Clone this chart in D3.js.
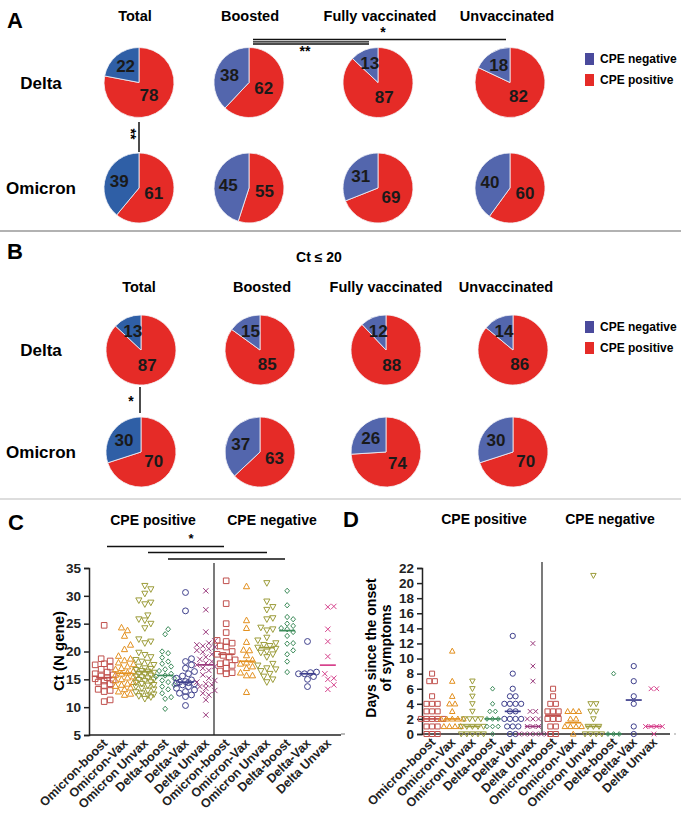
<!DOCTYPE html>
<html>
<head>
<meta charset="utf-8">
<script src="https://cdn.jsdelivr.net/npm/d3@7"></script>
<style>
  body { margin: 0; background: #fff; }
  text { font-family: 'Liberation Sans', Arial, Helvetica, sans-serif; font-weight: bold; }
</style>
</head>
<body>
<script>
// ---- data ----
var pieCols = ["Total", "Boosted", "Fully vaccinated", "Unvaccinated"];
var pieRows = ["Delta", "Omicron"];
var legendKeys = ["CPE negative", "CPE positive"];

// panel A, percentages
var negA_delta = [22, 38, 13, 18];
var posA_delta = [78, 62, 87, 82];
var negA_omicron = [39, 45, 31, 40];
var posA_omicron = [61, 55, 69, 60];
// panel B (Ct <= 20)
var negB_delta = [13, 15, 12, 14];
var posB_delta = [87, 85, 88, 86];
var negB_omicron = [30, 37, 26, 30];
var posB_omicron = [70, 63, 74, 70];

var groups = ["Omicron-boost", "Omicron-Vax", "Omicron Unvax", "Delta-boost", "Delta-Vax", "Delta Unvax"];

// panel C, Ct (N gene)
var ctPositive = [
  [24.7, 18.7, 18.3, 17.8, 17.6, 17.2, 16.8, 16.3, 16.0, 15.8, 15.6, 15.3, 15.1, 14.9, 14.7, 14.5, 14.2, 13.9, 13.2, 13.0, 12.8, 11.3, 11.0],
  [24.3, 23.8, 22.8, 21.2, 20.4, 19.2, 18.7, 18.4, 18.0, 17.7, 17.3, 17.0, 16.8, 16.5, 16.2, 16.0, 15.8, 15.5, 15.3, 15.0, 14.8, 14.5, 14.2, 14.0, 13.8, 13.5, 13.2, 12.8, 12.4, 12.2],
  [31.8, 31.2, 30.4, 29.2, 28.8, 28.5, 26.5, 25.8, 25.6, 25.0, 24.2, 22.2, 21.8, 21.5, 19.8, 19.4, 19.0, 18.5, 18.2, 18.0, 17.6, 17.3, 17.0, 16.9, 16.7, 16.5, 16.4, 16.2, 16.0, 15.9, 15.7, 15.5, 15.4, 15.2, 15.0, 14.9, 14.7, 14.5, 14.4, 14.2, 14.0, 13.9, 13.7, 13.4, 13.2, 13.0, 12.7, 12.5, 12.3, 12.1, 12.0, 11.8, 11.5],
  [24.0, 23.1, 20.0, 19.7, 18.9, 18.2, 17.8, 17.3, 16.8, 16.5, 16.0, 15.7, 15.5, 15.2, 14.8, 14.5, 14.0, 13.7, 13.2, 12.5, 11.8, 11.5, 9.7],
  [30.6, 27.3, 18.7, 18.2, 17.6, 17.0, 16.4, 16.0, 15.6, 15.2, 14.9, 14.6, 14.5, 14.3, 14.2, 14.0, 13.7, 13.4, 13.1, 12.8, 12.5, 12.2, 11.9, 10.3, 14.4],
  [30.9, 27.5, 23.5, 21.9, 21.5, 21.2, 21.0, 20.8, 20.5, 20.2, 19.9, 19.5, 19.0, 18.6, 18.2, 17.9, 17.6, 17.3, 17.0, 16.6, 15.8, 15.2, 14.8, 14.5, 14.2, 14.0, 13.7, 13.4, 13.0, 12.5, 12.2, 11.3, 8.6]
];
var ctNegative = [
  [32.7, 28.6, 25.0, 23.4, 22.0, 21.8, 21.5, 21.0, 20.8, 20.0, 19.5, 19.3, 19.0, 18.5, 18.0, 17.8, 17.5, 17.0, 16.5, 16.2, 16.0],
  [31.7, 25.6, 24.2, 21.7, 20.3, 20.2, 19.3, 18.5, 18.0, 17.8, 17.3, 17.0, 16.2, 15.7, 15.7, 12.7],
  [32.3, 29.0, 28.0, 27.5, 26.0, 25.8, 24.3, 24.0, 23.8, 22.5, 22.0, 21.5, 21.2, 21.0, 20.7, 20.5, 20.0, 19.8, 19.5, 19.0, 17.8, 17.5, 17.0, 16.8, 16.5, 16.0, 15.5, 15.0, 14.5],
  [30.9, 28.3, 26.2, 25.8, 25.0, 24.6, 24.2, 24.0, 23.5, 22.8, 21.5, 21.4, 20.2, 19.5, 18.2, 16.3],
  [21.8, 16.3, 16.2, 16.0, 16.0, 15.5, 15.0, 13.7],
  [28.1, 28.0, 24.0, 21.8, 19.1, 16.0, 15.2, 15.0, 14.0, 13.2]
];

// panel D, days since onset of symptoms
var daysPositive = [
  [8, 7, 7, 5, 4, 4, 4, 3, 3, 3, 2, 2, 2, 2, 2, 1, 1, 1, 0, 0, 0],
  [11, 7, 5, 4, 4, 3, 2, 2, 2, 2, 2, 1, 1, 1, 1],
  [7, 6, 5, 4, 3, 2, 2, 2, 2, 1, 1, 1, 1, 1, 0, 0, 0, 0, 0],
  [6, 4, 3, 3, 2, 2, 2, 1, 1, 1, 0],
  [13, 8, 6, 5, 5, 4, 4, 4, 4, 3, 3, 2, 2, 2, 2, 1, 1, 1, 0, 0],
  [12, 9, 7, 3, 3, 2, 2, 2, 1, 1, 1, 0, 0, 0, 0, 0, 0]
];
var daysNegative = [
  [6, 5, 4, 4, 3, 3, 3, 2, 2, 2, 1, 1, 0, 0],
  [3, 3, 3, 2, 2, 1, 1, 1, 1, 0],
  [21, 4, 4, 3, 3, 2, 1, 1, 1, 0, 0, 0, 0],
  [8, 0, 0, 0],
  [9, 7, 5, 4, 1, 0],
  [6, 6, 1, 1, 1, 1, 0]
];

var ctTicks = [5, 10, 15, 20, 25, 30, 35];
var dayTicks = [0, 2, 4, 6, 8, 10, 12, 14, 16, 18, 20, 22];

// ---- styles ----
var RED = "#e52b27";
var BLUE_TOTAL = "#2f5fa6";
var BLUE = "#5366ad";
var BLUE_LEGEND = "#4a4a9c";
var colColors = ["#c0504d", "#e3901f", "#9c9c3a", "#3d8b5a", "#3e3f8c", "#9a3b7d",
                 "#c0504d", "#e3901f", "#9c9c3a", "#3d8b5a", "#3e3f8c", "#d6428c"];
var colShapes = ["square", "triangle", "triangleDown", "diamond", "circle", "times"];

var svg = d3.select("body").append("svg")
    .attr("width", 681).attr("height", 816);

svg.append("rect").attr("width", 681).attr("height", 816).attr("fill", "#fff");

// separators
svg.append("line").attr("x1", 0).attr("x2", 681).attr("y1", 231).attr("y2", 231)
    .attr("stroke", "#999").attr("stroke-width", 1.5);
svg.append("line").attr("x1", 0).attr("x2", 681).attr("y1", 499).attr("y2", 499)
    .attr("stroke", "#bbb").attr("stroke-width", 1.2);

function label(x, y, txt, size, anchor) {
    return svg.append("text").attr("x", x).attr("y", y)
        .attr("font-size", size).attr("text-anchor", anchor || "middle").text(txt);
}

// ---------- pies ----------
var R = 35;
var pie = d3.pie().sort(null).value(function(d) { return d.v; });
var arc = d3.arc().innerRadius(0).outerRadius(R);
var arcNegLabel = d3.arc().innerRadius(R * 0.6).outerRadius(R * 0.6);
var arcPosLabel = d3.arc().innerRadius(R * 0.45).outerRadius(R * 0.45);

function drawPieGrid(cfg) {
    label(cfg.letterX, cfg.letterY, cfg.letter, 22, "start");
    cfg.titleX.forEach(function(x, i) { label(x, cfg.titleY, pieCols[i], 14.5); });
    pieRows.forEach(function(r, ri) { label(41, cfg.rowY[ri] + 6, r, 17); });

    cfg.rowY.forEach(function(cy, ri) {
        cfg.colX.forEach(function(cx, ci) {
            var data = [{k: "pos", v: cfg.pos[ri][ci]}, {k: "neg", v: cfg.neg[ri][ci]}];
            var g = svg.append("g").attr("transform", "translate(" + cx + "," + cy + ")");
            var arcs = pie(data);
            g.selectAll("path").data(arcs).enter().append("path")
                .attr("d", arc)
                .attr("fill", function(d) {
                    if (d.data.k === "pos") return RED;
                    return ci === 0 ? BLUE_TOTAL : BLUE;
                })
                .attr("stroke", "#f4f4f8").attr("stroke-width", 0.8);
            g.selectAll("text").data(arcs).enter().append("text")
                .attr("transform", function(d) {
                    var c = (d.data.k === "pos" ? arcPosLabel : arcNegLabel).centroid(d);
                    return "translate(" + c[0] + "," + c[1] + ")";
                })
                .attr("dy", "0.36em")
                .attr("text-anchor", "middle")
                .attr("font-size", 17)
                .attr("fill", "#1a1a1a")
                .text(function(d) { return d.data.v; });
        });
    });

    // legend
    var lg = [BLUE_LEGEND, RED];
    legendKeys.forEach(function(k, i) {
        var y = cfg.legendY[i];
        svg.append("rect").attr("x", 585).attr("y", y - 6).attr("width", 9).attr("height", 12)
            .attr("fill", lg[i]);
        label(600, y + 4, k, 12, "start");
    });
}

drawPieGrid({
    letter: "A", letterX: 7, letterY: 28,
    titleX: [135, 250, 380, 507], titleY: 21,
    colX: [139, 249, 378, 510], rowY: [82.5, 188],
    neg: [negA_delta, negA_omicron], pos: [posA_delta, posA_omicron],
    legendY: [59, 80]
});

drawPieGrid({
    letter: "B", letterX: 7, letterY: 259,
    titleX: [139, 262, 386, 506], titleY: 292,
    colX: [141, 260, 386, 513], rowY: [350, 452],
    neg: [negB_delta, negB_omicron], pos: [posB_delta, posB_omicron],
    legendY: [327, 348]
});
label(319, 262, "Ct \u2264 20", 14);

// significance marks in A and B
function seg(x1, y1, x2, y2, w) {
    svg.append("line").attr("x1", x1).attr("y1", y1).attr("x2", x2).attr("y2", y2)
        .attr("stroke", "#111").attr("stroke-width", w || 1.3);
}
seg(253, 39.5, 506, 39.5);
seg(253, 41.8, 369, 41.8);
seg(253, 44, 369, 44);
label(383, 37, "*", 14);
label(305, 56, "**", 14);
seg(139, 122, 139, 152, 1.5);
svg.append("text").attr("transform", "translate(126,134) rotate(90)")
    .attr("text-anchor", "middle").attr("font-size", 14).text("**");
seg(140, 387, 140, 413, 1.5);
label(131, 406, "*", 14);

// ---------- markers ----------
function markerPath(shape, h) {
    var p = d3.path();
    if (shape === "square") { p.rect(-h, -h, 2 * h, 2 * h); }
    else if (shape === "triangle") { p.moveTo(0, -h * 1.15); p.lineTo(h * 1.1, h * 0.85); p.lineTo(-h * 1.1, h * 0.85); p.closePath(); }
    else if (shape === "triangleDown") { p.moveTo(0, h * 1.15); p.lineTo(h * 1.1, -h * 0.85); p.lineTo(-h * 1.1, -h * 0.85); p.closePath(); }
    else if (shape === "diamond") { p.moveTo(0, -h * 0.95); p.lineTo(h * 0.85, 0); p.lineTo(0, h * 0.95); p.lineTo(-h * 0.85, 0); p.closePath(); }
    else if (shape === "circle") { p.arc(0, 0, h * 1.05, 0, 2 * Math.PI); }
    else { var t = h * 0.95; p.moveTo(-t, -t); p.lineTo(t, t); p.moveTo(t, -t); p.lineTo(-t, t); }
    return p.toString();
}

// greedy beeswarm for continuous values
function swarm(vals, y, maxOff, gap) {
    var placed = [];
    var sorted = vals.slice().sort(function(a, b) { return d3.ascending(a, b); });
    sorted.forEach(function(v) {
        var py = y(v), best = 0, bestScore = -1;
        for (var k = 0; k <= 12; k++) {
            var cands = k === 0 ? [0] : [k * 3, -k * 3];
            for (var c = 0; c < cands.length; c++) {
                var dx = cands[c];
                if (Math.abs(dx) > maxOff) continue;
                var md = d3.min(placed, function(p) { return Math.hypot(p.dx - dx, p.y - py); });
                if (md === undefined) md = 99;
                if (md >= gap) { best = dx; bestScore = 99; break; }
                if (md > bestScore) { bestScore = md; best = dx; }
            }
            if (bestScore === 99) break;
        }
        placed.push({v: v, y: py, dx: best});
    });
    return placed;
}

// centred rows for repeated integer values
function rows(vals, y, step) {
    var out = [];
    d3.groups(vals, function(v) { return v; }).forEach(function(gv) {
        var n = gv[1].length;
        gv[1].forEach(function(v, i) { out.push({v: v, y: y(v), dx: (i - (n - 1) / 2) * step}); });
    });
    return out;
}

function drawScatter(cfg) {
    var x = d3.scaleBand().domain(d3.range(12)).range(cfg.xRange);
    var y = d3.scaleLinear().domain(cfg.yDomain).range(cfg.yRange);
    var g = svg.append("g");

    // y axis
    var ax = g.append("g").attr("transform", "translate(" + cfg.axisX + ",0)")
        .call(d3.axisLeft(y).tickValues(cfg.ticks).tickSize(5).tickPadding(3));
    ax.select(".domain").attr("stroke", "#222").attr("stroke-width", 1.5);
    ax.selectAll(".tick line").attr("stroke", "#222").attr("stroke-width", 1.5);
    ax.selectAll(".tick text").attr("font-size", 13.5).attr("font-weight", "bold")
        .attr("font-family", "'Liberation Sans', Arial, sans-serif").attr("fill", "#222");

    // x axis line + rotated labels
    var base = cfg.yRange[0];
    g.append("line").attr("x1", cfg.axisX).attr("x2", cfg.xEnd).attr("y1", base).attr("y2", base)
        .attr("stroke", "#222").attr("stroke-width", 1.5);
    d3.range(12).forEach(function(i) {
        var cx = x(i) + x.bandwidth() / 2;
        g.append("text").attr("transform", "translate(" + (cx + 4) + "," + (base + 9) + ") rotate(-45)")
            .attr("text-anchor", "end").attr("font-size", 12.5).attr("fill", "#222")
            .text(groups[i % 6]);
    });

    // divider
    g.append("line").attr("x1", cfg.divX).attr("x2", cfg.divX).attr("y1", cfg.divTop).attr("y2", base)
        .attr("stroke", "#222").attr("stroke-width", 1.2);

    var all = cfg.pos.concat(cfg.neg);
    all.forEach(function(vals, i) {
        var cx = x(i) + x.bandwidth() / 2;
        var pts = cfg.integer ? rows(vals, y, cfg.step) : swarm(vals, y, 9, 5.6);
        var shape = colShapes[i % 6];
        g.selectAll(null).data(pts).enter().append("path")
            .attr("transform", function(d) { return "translate(" + (cx + d.dx) + "," + d.y + ")"; })
            .attr("d", markerPath(shape, cfg.mark))
            .attr("fill", "none").attr("stroke", colColors[i]).attr("stroke-width", 1);
        var med = d3.median(vals);
        g.append("line").attr("x1", cx - 8).attr("x2", cx + 8).attr("y1", y(med)).attr("y2", y(med))
            .attr("stroke", colColors[i]).attr("stroke-width", 1.7);
    });

    label(cfg.letterX, cfg.letterY, cfg.letter, 22, "start");
    label(cfg.posX, cfg.headY, "CPE positive", 14);
    label(cfg.negX, cfg.headY, "CPE negative", 14);
    return {x: x, y: y};
}

// panel C
drawScatter({
    letter: "C", letterX: 8, letterY: 530,
    posX: 153, negX: 272, headY: 525,
    xRange: [94, 338], axisX: 89, xEnd: 341,
    yDomain: [5, 35], yRange: [735, 568], ticks: ctTicks,
    divX: 214, divTop: 563, mark: 2.8,
    pos: ctPositive, neg: ctNegative, integer: false
});
svg.append("text").attr("transform", "translate(64,651) rotate(-90)")
    .attr("text-anchor", "middle").attr("font-size", 15).text("Ct (N gene)");
seg(107, 546.5, 224, 546.5, 1.4);
seg(148, 552.5, 267, 552.5, 1.4);
seg(168, 559, 285, 559, 1.4);
label(191, 543, "*", 13);

// panel D
drawScatter({
    letter: "D", letterX: 343, letterY: 527,
    posX: 484, negX: 610, headY: 524,
    xRange: [422, 664], axisX: 422, xEnd: 670,
    yDomain: [0, 22], yRange: [734, 568], ticks: dayTicks,
    divX: 542, divTop: 562, mark: 2.5, step: 5.6,
    pos: daysPositive, neg: daysNegative, integer: true
});
svg.append("text").attr("transform", "translate(376,648) rotate(-90)")
    .attr("text-anchor", "middle").attr("font-size", 14).text("Days since the onset");
svg.append("text").attr("transform", "translate(391,648) rotate(-90)")
    .attr("text-anchor", "middle").attr("font-size", 14).text("of symptoms");
// stray dashes at the ends of the D baseline
svg.append("line").attr("x1", 341).attr("x2", 345).attr("y1", 734).attr("y2", 734).attr("stroke", "#777");
svg.append("line").attr("x1", 674).attr("x2", 676).attr("y1", 734).attr("y2", 734).attr("stroke", "#999");
</script>
</body>
</html>
